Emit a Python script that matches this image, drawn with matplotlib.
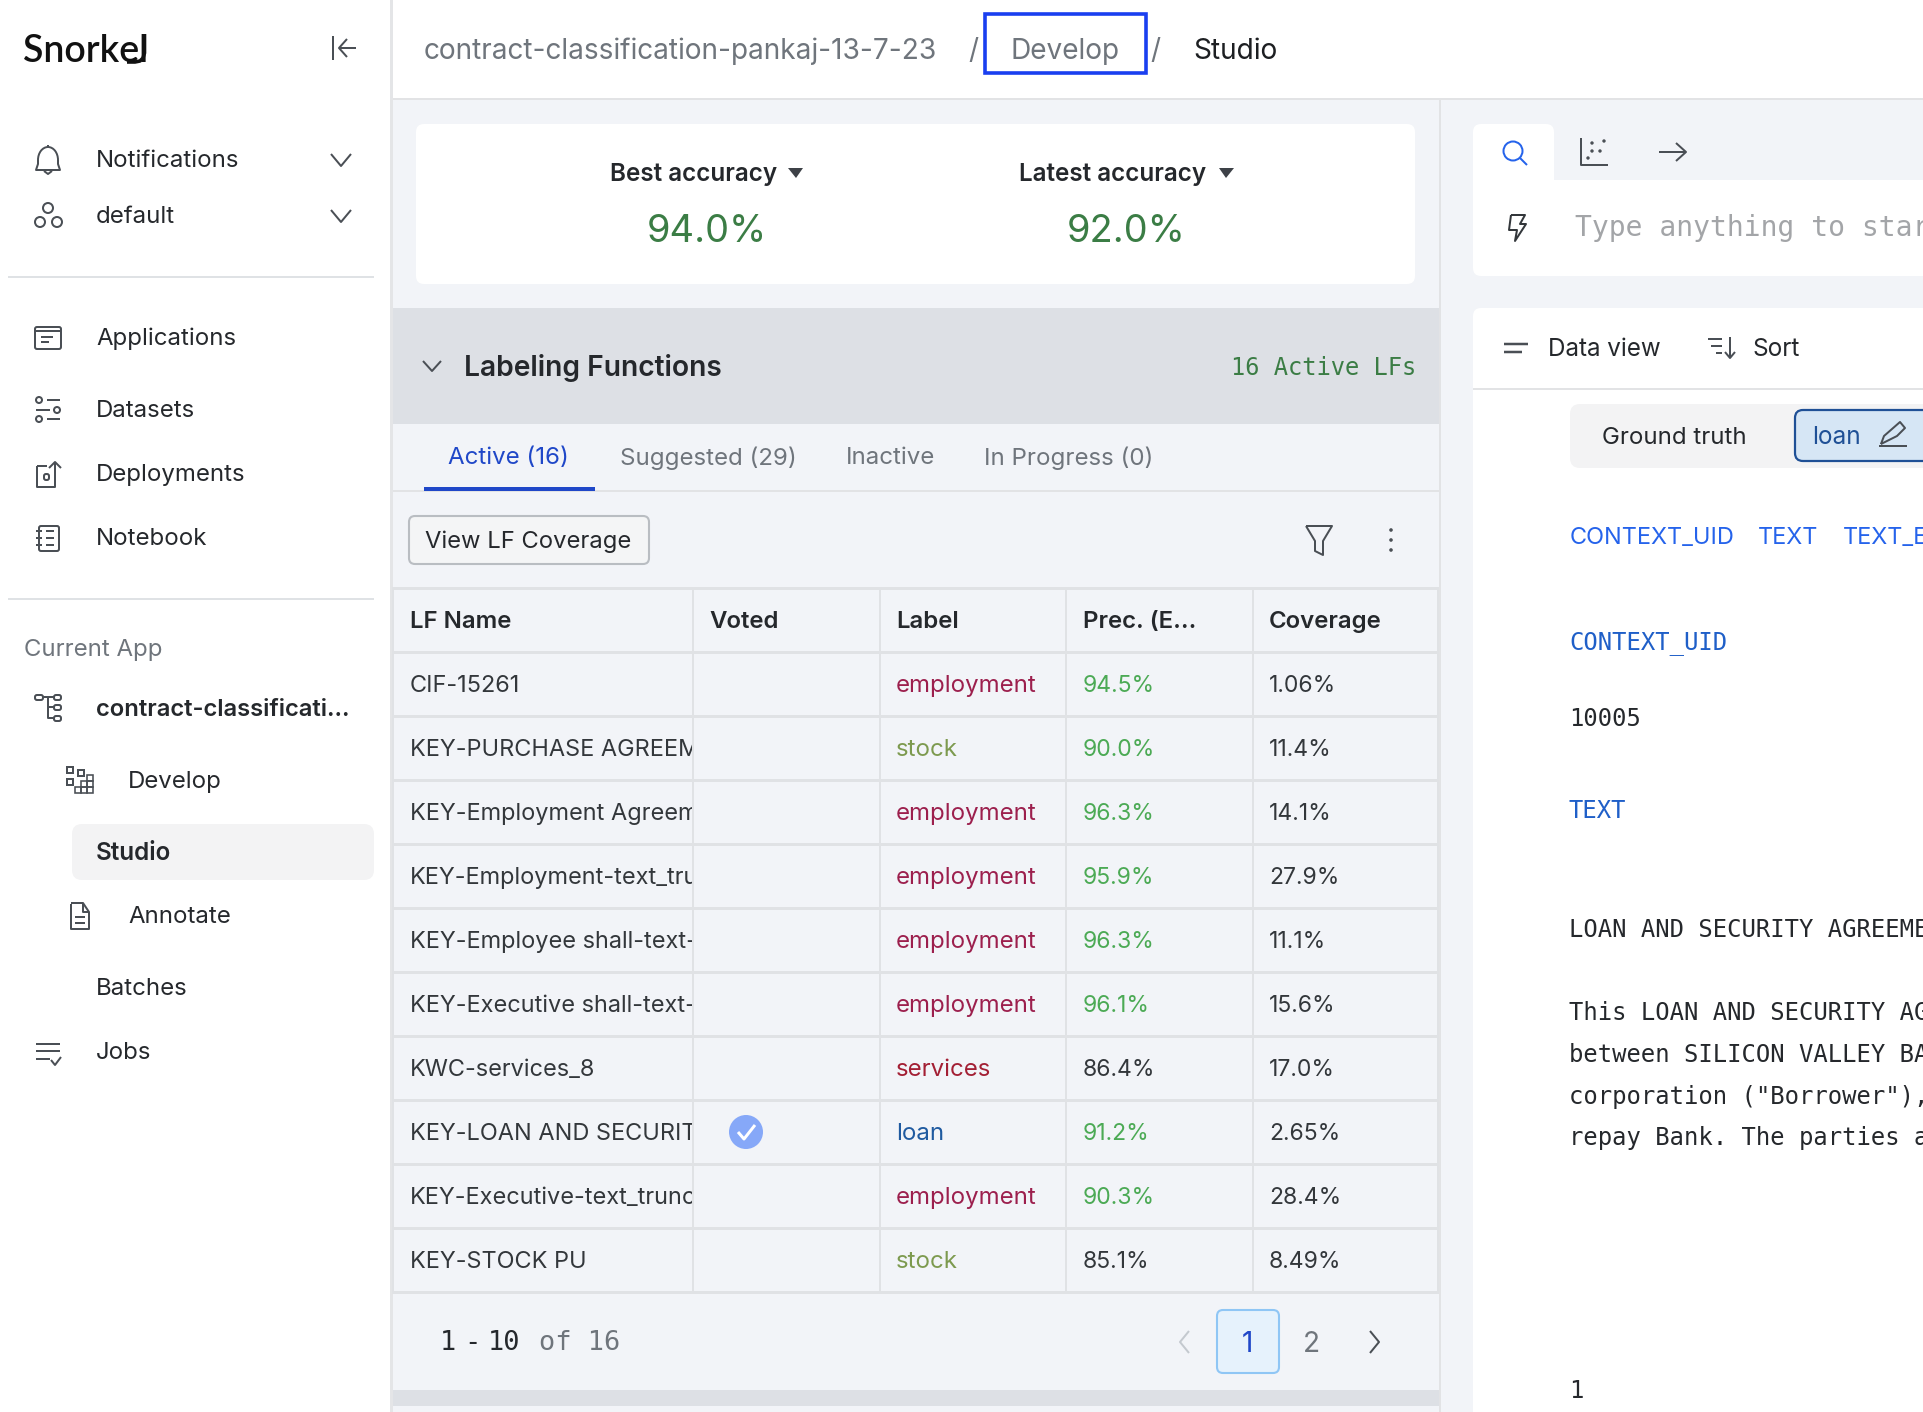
import matplotlib
matplotlib.use('Agg')
import matplotlib.pyplot as plt
from matplotlib.patches import Rectangle, FancyBboxPatch, Circle, Polygon, Arc

# table data
lf_names = ['CIF-15261', 'KEY-PURCHASE AGREEMENT', 'KEY-Employment Agreement', 'KEY-Employment-text_truncated',
            'KEY-Employee shall-text-truncated', 'KEY-Executive shall-text-truncated', 'KWC-services_8',
            'KEY-LOAN AND SECURITY', 'KEY-Executive-text_truncated', 'KEY-STOCK PU']
lf_labels = ['employment', 'stock', 'employment', 'employment', 'employment', 'employment', 'services', 'loan',
             'employment', 'stock']
lf_prec = [94.5, 90.0, 96.3, 95.9, 96.3, 96.1, 86.4, 91.2, 90.3, 85.1]
lf_cov = ['1.06%', '11.4%', '14.1%', '27.9%', '11.1%', '15.6%', '17.0%', '2.65%', '28.4%', '8.49%']
lf_voted = [False, False, False, False, False, False, False, True, False, False]
table_cols = ['LF Name', 'Voted', 'Label', 'Prec. (E...', 'Coverage']
tabs = ['Active (16)', 'Suggested (29)', 'Inactive', 'In Progress (0)']
best_acc = '94.0%'
latest_acc = '92.0%'

label_colors = {'employment': '#9c1f4d', 'stock': '#7d9a4f', 'services': '#a31f34', 'loan': '#1f5aa0'}

BG = '#f2f4f8'
DARK = '#25282c'
GRAY = '#6f757c'
ICON = '#4a4f55'
LINE = '#e0e2e5'
SANS = ['Inter', 'DejaVu Sans']
MONO = ['DejaVu Sans Mono']

fig = plt.figure(figsize=(19.24, 14.12), dpi=100)
ax = fig.add_axes([0, 0, 1, 1])
ax.set_xlim(0, 1924)
ax.set_ylim(1412, 0)
ax.axis('off')


def T(x, y, s, px=24, color=DARK, weight='normal', family=SANS, ha='left', **kw):
    # y shift: center_baseline sits a bit low compared to the screenshot
    return ax.text(x, y - 1.5, s, fontsize=px * 0.72, color=color, fontweight=weight, family=family, ha=ha,
                   va='center_baseline', **kw)


def R(x0, y0, x1, y1, color, z=1):
    ax.add_patch(Rectangle((x0, y0), x1 - x0, y1 - y0, fc=color, ec='none', zorder=z))


def RR(x0, y0, x1, y1, fc, ec='none', lw=0, r=8, z=1):
    ax.add_patch(FancyBboxPatch((x0, y0), x1 - x0, y1 - y0, boxstyle='round,pad=0,rounding_size=%d' % r,
                                fc=fc, ec=ec, lw=lw, zorder=z))


def L(xs, ys, color=ICON, lw=2.0, z=3):
    ax.plot(xs, ys, color=color, lw=lw * 0.72, solid_capstyle='butt', zorder=z)


def O(x, y, r, color=ICON, lw=2.0, fc='none'):
    ax.add_patch(Circle((x, y), r, fc=fc, ec=color, lw=lw * 0.72, zorder=3))


def box(x0, y0, x1, y1, color=ICON, lw=2.0, r=2):
    RR(x0, y0, x1, y1, 'none', ec=color, lw=lw * 0.72, r=r, z=3)


def chevron_down(x, y, w=10, h=6, color=ICON):
    L([x - w, x, x + w], [y - h, y + h, y - h], color=color)


# backgrounds
R(0, 0, 1924, 1412, BG, 0)
R(0, 0, 390, 1412, 'white')
R(390, 0, 393, 1412, '#e4e5e7', 2)
R(393, 0, 1924, 98, 'white')
R(393, 98, 1924, 100, '#e2e3e5')
R(1439, 100, 1441, 1412, '#e2e3e5')
RR(416, 124, 1415, 284, 'white')
R(393, 308, 1439, 424, '#dde0e5')
R(393, 490, 1439, 492, '#e2e3e5')
R(393, 1390, 1439, 1406, '#dde0e5')

# sidebar
T(23, 49, 'Snorkel', px=37.5, color='#111111', weight='semibold', family=['Lato', 'DejaVu Sans'])
L([144.5, 144.5, 143, 140, 135, 127], [34, 53, 58, 61, 62, 62], color='#111111', lw=3.6)
L([333, 333], [36, 60], lw=2)
L([339, 356], [48, 48], lw=2)
L([347, 339, 347], [39, 48, 57], lw=2)

for y in [277, 599]:
    R(8, y - 1, 374, y + 1, '#dfe2e5')
nav_items = [(96, 160, 'Notifications'), (96, 216, 'default'), (96, 338, 'Applications'), (96, 410, 'Datasets'),
             (96, 474, 'Deployments'), (96, 538, 'Notebook'), (128, 781, 'Develop'), (128, 916, 'Annotate'),
             (96, 988, 'Batches'), (96, 1052, 'Jobs')]
for x, y, s in nav_items:
    T(x, y, s, px=24)
chevron_down(341, 160)
chevron_down(341, 216)
T(24, 649, 'Current App', px=24, color=GRAY)
T(96, 709, 'contract-classificati...', px=23.8, weight='semibold')
RR(72, 824, 374, 880, '#f3f3f4', r=10)
T(96, 852, 'Studio', px=24.2, weight='semibold', zorder=3)

# sidebar icons
ax.add_patch(Arc((48, 160), 20, 26, theta1=180, theta2=360, ec=ICON, lw=1.4, zorder=3))
L([38, 38, 36, 60, 58, 58], [160, 164, 170, 170, 164, 160])
L([44, 48, 52], [171, 174, 171])
L([48, 48], [145, 147])
O(48, 208, 5)
O(40, 222, 5)
O(57, 222, 5)
box(35, 327, 61, 349)
L([35, 61], [331, 331])
L([41, 53], [337, 337])
L([41, 49], [342, 342])
O(39, 400, 3)
L([47, 60], [400, 400])
L([36, 50], [410, 410])
O(57, 410, 3)
O(39, 419, 3)
L([47, 60], [419, 419])
L([37, 37, 55, 55], [466, 487, 487, 462])
L([37, 47], [466, 466])
box(44, 474, 49, 480)
L([55, 55], [462, 478])
L([49, 55, 61], [468, 462, 468])
box(39, 526, 59, 551)
for y in [531, 538, 545]:
    L([36, 42], [y, y])
    L([46, 54], [y, y])
# tree icon next to the app name
box(35, 695, 43, 700)
box(54, 695, 61, 700)
box(54, 705, 61, 710)
box(54, 716, 61, 721)
L([43, 54], [697, 697])
L([48, 48, 54], [697, 718, 718])
L([48, 54], [707, 707])
# develop icon
for bx, by in [(67, 767), (78, 770), (67, 779)]:
    box(bx, by, bx + 6, by + 6, r=0)
for bx, by in [(87, 775), (81, 781), (87, 781), (75, 787), (81, 787), (87, 787)]:
    box(bx, by, bx + 6, by + 6, r=0, lw=1.6)
L([71, 71, 89, 89, 83, 71], [904, 929, 929, 912, 903, 903])
L([83, 83, 89], [903, 912, 912])
L([75, 85], [917, 917])
L([75, 85], [923, 923])
for y, x1 in [(1044, 60), (1051, 60), (1059, 50)]:
    L([36, x1], [y, y])
L([51, 55, 61], [1060, 1065, 1057])

# breadcrumb
T(424, 50, 'contract-classification-pankaj-13-7-23', px=28, color=GRAY)
T(968, 50, '/', px=28, color=GRAY)
T(1011, 50, 'Develop', px=28, color=GRAY)
ax.add_patch(Rectangle((985, 14), 161, 59, fc='none', ec='#1a3ff0', lw=2.6, zorder=4))
T(1150, 50, '/', px=28, color=GRAY)
T(1193, 50, 'Studio', px=28, color='#1d1f22')

# accuracy card
T(610, 173, 'Best accuracy', px=24.3, weight='semibold')
ax.add_patch(Polygon([[788, 168], [803, 168], [796, 178]], fc='#3d4147', ec='none', zorder=3))
T(706.5, 230, best_acc, px=38, color='#3b7d45', ha='center')
T(1019, 173, 'Latest accuracy', px=24.3, weight='semibold')
ax.add_patch(Polygon([[1219, 168], [1234, 168], [1226, 178]], fc='#3d4147', ec='none', zorder=3))
T(1126.5, 230, latest_acc, px=38, color='#3b7d45', ha='center')

# labeling functions header
chevron_down(432, 366, w=9, h=5)
T(464, 367, 'Labeling Functions', px=28.2, weight='semibold')
T(1416, 367, '16 Active LFs', px=23.8, color='#3b7d45', family=MONO, ha='right')

# tabs
tab_x = [448, 620, 846, 984]
for i in range(len(tabs)):
    T(tab_x[i], 457, tabs[i], px=24.1, color='#1f47c8' if i == 0 else GRAY)
R(424, 487, 595, 491, '#1f47c8', 3)

# button and toolbar
RR(409, 516, 649, 564, '#f4f5f6', ec='#b9bdc2', lw=1.5, r=6)
T(425, 541, 'View LF Coverage', px=23.8, zorder=3)
L([1306, 1332, 1323, 1323, 1315, 1315, 1306], [526, 526, 541, 555, 551, 541, 526], lw=2)
for y in [530, 540, 550]:
    ax.add_patch(Circle((1391, y), 1.8, fc=ICON, ec='none', zorder=3))

# table
col_x = [393, 693, 880, 1066, 1253, 1438]
text_x = [410, 709, 896, 1083, 1269]
row_y = [588 + 64 * i for i in range(12)]
for y in row_y:
    R(393, y - 1.5, 1438, y + 1.5, LINE, 2)
for x in col_x:
    R(x - 1, 587, x + 1, 1294, LINE, 2)
for i in range(len(table_cols)):
    T(text_x[i], 621, table_cols[i], px=24, weight='semibold')
for i in range(len(lf_names)):
    yc = row_y[i + 1] + 33
    t = T(text_x[0], yc, lf_names[i], px=23.5, color='#33373b')
    t.set_clip_path(Rectangle((394, yc - 30), 298, 60, transform=ax.transData))
    t.set_clip_on(True)
    T(text_x[2], yc, lf_labels[i], px=24, color=label_colors[lf_labels[i]])
    T(text_x[3], yc, '%.1f%%' % lf_prec[i], px=23, color='#4caa55' if lf_prec[i] >= 90 else '#33373b')
    T(text_x[4], yc, lf_cov[i], px=23, color='#33373b')
    if lf_voted[i]:
        ax.add_patch(Circle((746, yc - 1), 17, fc='#86a8f8', ec='none', zorder=3))
        L([738, 744, 755], [yc - 1, yc + 6, yc - 8], color='white', lw=3)

# pagination, spaces around the dash are tighter than the mono advance
T(440, 1342, '1', px=27, family=MONO)
T(464, 1342, '-', px=27, family=MONO)
T(488, 1342, '10', px=27, family=MONO)
T(539, 1342, 'of 16', px=27, color=GRAY, family=MONO)
L([1189, 1180, 1189], [1331, 1342, 1353], color='#c4c9cf')
RR(1217, 1310, 1279, 1373, '#e6f2fc', ec='#8fc6f5', lw=1.5, r=6)
T(1247, 1343, '1', px=28, color='#1f47c8', ha='center', zorder=3)
T(1311, 1343, '2', px=28, color=GRAY, ha='center')
L([1370, 1379, 1370], [1331, 1342, 1353])

# right panel
RR(1473, 124, 1554, 200, 'white')
RR(1473, 180, 1960, 276, 'white')
R(1473, 180, 1554, 200, 'white', 1)
RR(1473, 308, 1960, 1440, 'white')
R(1473, 388, 1924, 390, '#e2e3e5', 2)
O(1513, 151, 9.5, color='#2563eb')
L([1520, 1527], [158, 165], color='#2563eb')
L([1581, 1581, 1608], [138, 165, 165])
for dx, dy in [(1592, 143), (1604, 141), (1592, 151), (1600, 151), (1588, 158)]:
    ax.add_patch(Circle((dx, dy), 1.7, fc=ICON, ec='none', zorder=3))
L([1659, 1686], [152, 152])
L([1676, 1686, 1676], [143, 152, 161])
L([1511, 1525, 1520, 1526, 1515, 1517, 1509, 1511], [215, 215, 224, 224, 241, 230, 230, 215], color='#33373b')
T(1575, 226, 'Type anything to star', px=28, color='#a3a5a8', family=MONO)

L([1504, 1528], [344, 344], lw=2.5)
L([1504, 1522], [352, 352], lw=2.5)
T(1548, 348, 'Data view', px=24.2)
L([1708, 1722], [339, 339])
L([1711, 1722], [346, 346])
L([1716, 1722], [353, 353])
L([1730, 1730], [337, 358])
L([1725, 1730, 1735], [352, 358, 352])
T(1753, 348, 'Sort', px=24.4)

RR(1570, 404, 1960, 468, '#f3f3f4', r=10)
T(1602, 437, 'Ground truth', px=24, zorder=3)
RR(1795, 410, 1960, 461, '#d6e6f5', ec='#1f5096', lw=1.6, r=8, z=2)
T(1812, 437, 'loan', px=24.4, color='#1f5096', zorder=3)
L([1881, 1884, 1900, 1905, 1897, 1881], [444, 436, 422, 428, 436, 444], color=ICON)
L([1879, 1907], [446, 446], color=ICON)

T(1570, 537, 'CONTEXT_UID', px=23.5, color='#2563eb')
T(1758, 537, 'TEXT', px=23.5, color='#2563eb')
T(1843, 537, 'TEXT_E', px=23.5, color='#2563eb')

T(1569, 642, 'CONTEXT_UID', px=23.9, color='#1f5fc8', family=MONO)
T(1569, 718, '10005', px=23.9, family=MONO)
T(1569, 810, 'TEXT', px=23.9, color='#1f5fc8', family=MONO)
doc_lines = [(929, 'LOAN AND SECURITY AGREEME'), (1012, 'This LOAN AND SECURITY AG'), (1054, 'between SILICON VALLEY BA'),
             (1096, 'corporation ("Borrower"),'), (1137, 'repay Bank. The parties a'), (1390, '1')]
for y, s in doc_lines:
    T(1569, y, s, px=23.9, family=MONO)

fig.savefig('out.png', dpi=100)
